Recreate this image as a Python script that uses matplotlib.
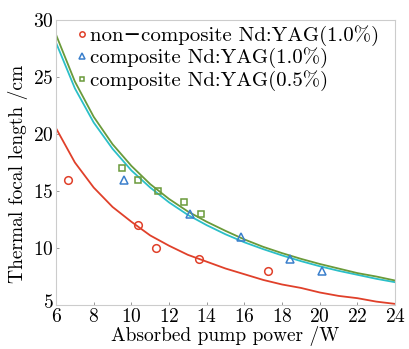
import matplotlib
matplotlib.use("Agg")
import matplotlib.pyplot as plt
import matplotlib.transforms as mtransforms

plt.rcParams['font.family'] = ['cmr10', 'DejaVu Serif']
plt.rcParams['axes.formatter.use_mathtext'] = True
plt.rcParams['mathtext.fontset'] = 'cm'

# measured points
p_non = [6.65, 10.35, 11.3, 13.6, 17.25]
f_non = [16, 12, 10, 9, 8]
p_c10 = [9.6, 13.1, 15.8, 18.4, 20.1]
f_c10 = [16, 13, 11, 9, 8]
p_c05 = [9.5, 10.35, 11.4, 12.8, 13.7]
f_c05 = [17, 16, 15, 14, 13]

# fitted curves
p_fit = [6, 7, 8, 9, 10, 11, 12, 13, 14, 15, 16, 17, 18, 19, 20, 21, 22, 23, 24]
fit_non = [20.5, 17.5, 15.3, 13.6, 12.3, 11.1, 10.2, 9.4, 8.8, 8.2, 7.7, 7.2, 6.8, 6.5, 6.1, 5.8, 5.6, 5.3, 5.1]
fit_c10 = [28.0, 24.0, 21.0, 18.7, 16.8, 15.3, 14.0, 12.9, 12.0, 11.2, 10.5, 9.9, 9.35, 8.85, 8.4, 8.0, 7.65, 7.3, 7.0]
fit_c05 = [28.7, 24.6, 21.5, 19.1, 17.2, 15.6, 14.3, 13.2, 12.3, 11.5, 10.75, 10.1, 9.55, 9.05, 8.6, 8.2, 7.8, 7.5, 7.15]

labels = ['non\u2212composite Nd:YAG(1.0%)', 'composite Nd:YAG(1.0%)', 'composite Nd:YAG(0.5%)']
xticks = [6, 8, 10, 12, 14, 16, 18, 20, 22, 24]
yticks = [5, 10, 15, 20, 25, 30]

red = '#e0402a'
blue = '#3a7fcc'
green = '#6a9a3a'
cyan = '#2bbfc8'

fig = plt.figure(figsize=(4.09, 3.49), dpi=100)
ax = fig.add_axes([0.137, 0.126, 0.829, 0.817])

ax.plot(p_fit, fit_non, color=red, lw=1.3)
ax.plot(p_fit, fit_c10, color=cyan, lw=1.3)
ax.plot(p_fit, fit_c05, color=green, lw=1.3)

ax.plot(p_non, f_non, 'o', mfc='none', mec=red, ms=5.5, mew=1.1, label=labels[0])
ax.plot(p_c10, f_c10, '^', mfc='none', mec=blue, ms=5.5, mew=1.1, label=labels[1])
ax.plot(p_c05, f_c05, 's', mfc='none', mec=green, ms=5.0, mew=1.1, label=labels[2])

ax.set_xlim(6, 24)
ax.set_ylim(5, 30)
ax.set_xticks(xticks)
ax.set_yticks(yticks)
ax.tick_params(direction='in', length=2.5, width=0.6, color='#888888', labelsize=14, pad=2)
for s in ax.spines.values():
    s.set_color('#cccccc')
    s.set_linewidth(0.8)

# lift the lowest y tick label a little, as in the reference
ytl = ax.yaxis.get_major_ticks()[0].label1
ytl.set_transform(ytl.get_transform() + mtransforms.ScaledTranslation(0, 4 / 100, fig.dpi_scale_trans))

ax.set_xlabel('Absorbed pump power /W', fontsize=14, labelpad=0)
ax.set_ylabel('Thermal focal length /cm', fontsize=14)
ax.yaxis.set_label_coords(-0.083, 0.46)

leg = ax.legend(loc='upper left', frameon=False, fontsize=15, handlelength=0.5,
                handletextpad=0.15, labelspacing=0.08, borderaxespad=0.0, borderpad=0.25,
                bbox_to_anchor=(0.046, 1.0), markerscale=0.7)

fig.savefig('out.png', dpi=100)
